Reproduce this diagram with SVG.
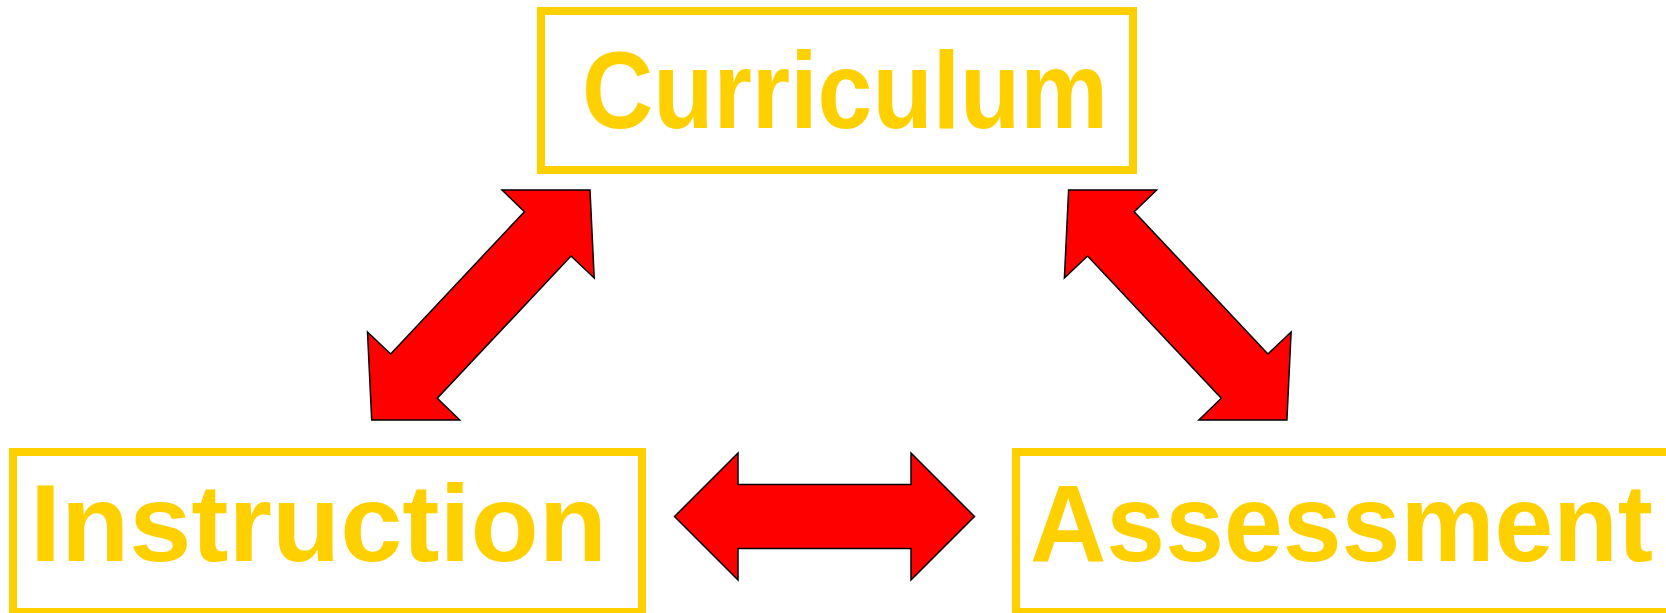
<svg xmlns="http://www.w3.org/2000/svg" width="1666" height="613" viewBox="0 0 1666 613">
<style>
.box{fill:#FFFFFF;stroke:#FFD000;stroke-width:8}
.lbl{font-family:"Liberation Sans",Arial,sans-serif;font-weight:bold;font-size:110px;fill:#FFD000}
.arr{fill:#FF0000;stroke:#000000;stroke-width:1.5;stroke-linejoin:miter}
</style>
<rect width="1666" height="613" fill="#FFFFFF"/>
<g id="connectors">
<polygon id="arrow-left" class="arr" points="590,190 594.2,278 571,256 437.3,398.3 459.7,420 371.7,420 367.5,332 390.7,354 524.4,211.7 502,190"/>
<polygon id="arrow-right" class="arr" points="1068.6,190 1064.4,278 1087.6,256 1221.3,398.3 1198.9,420 1286.9,420 1291.1,332 1267.9,354 1134.2,211.7 1156.6,190"/>
<polygon id="arrow-bottom" class="arr" points="674.5,516.5 738,453 738,484.5 911,484.5 911,453 974.5,516.5 911,580 911,548.5 738,548.5 738,580"/>
</g>
<g id="curriculum">
<rect class="box" x="541" y="11" width="592" height="159"/>
<text class="lbl" x="582" y="128" textLength="526" lengthAdjust="spacingAndGlyphs">Curriculum</text>
</g>
<g id="instruction">
<rect class="box" x="13" y="452" width="629" height="160"/>
<text class="lbl" x="30" y="561" textLength="577" lengthAdjust="spacingAndGlyphs">Instruction</text>
</g>
<g id="assessment">
<rect class="box" x="1016" y="452" width="654" height="160"/>
<text class="lbl" x="1030" y="561" textLength="623" lengthAdjust="spacingAndGlyphs">Assessment</text>
</g>
</svg>
